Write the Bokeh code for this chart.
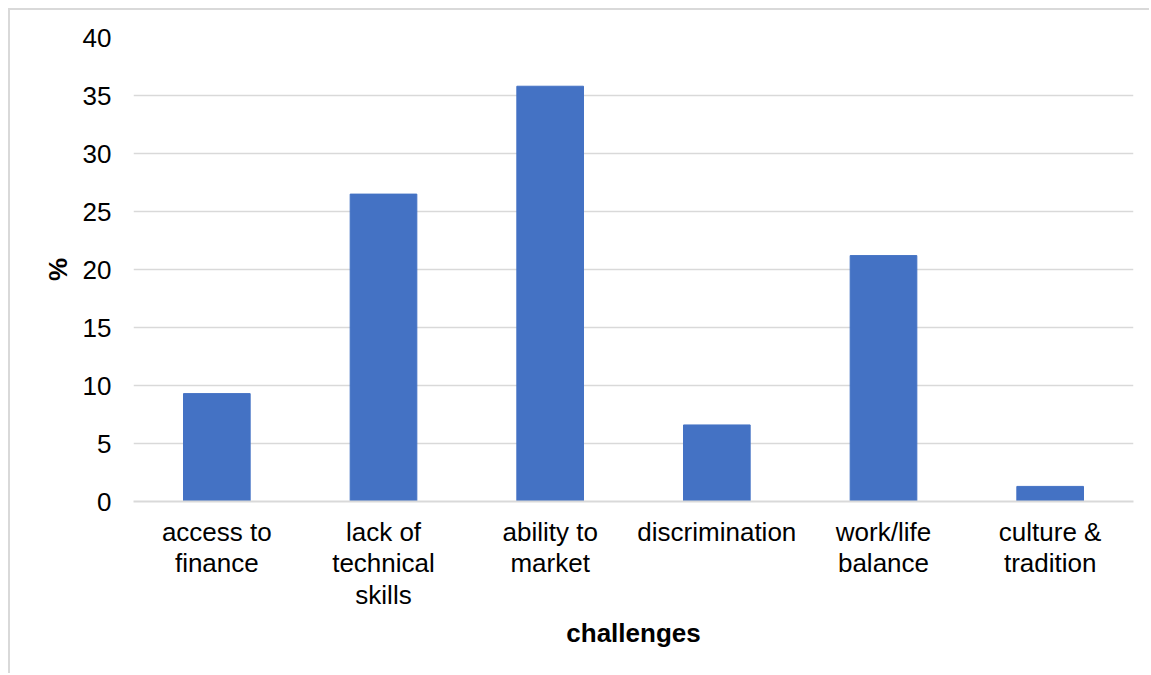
from bokeh.plotting import figure
from bokeh.models import Range1d, FixedTicker
from bokeh.embed import file_html
from bokeh.resources import INLINE

categories = ["access to\nfinance", "lack of\ntechnical\nskills", "ability to\nmarket",
              "discrimination", "work/life\nbalance", "culture &\ntradition"]
values = [9.3, 26.5, 35.8, 6.6, 21.2, 1.3]
y_ticks = [0, 5, 10, 15, 20, 25, 30, 35, 40]

FONT = "Liberation Sans"

p = figure(x_range=categories, y_range=Range1d(0, 40),
           width=1141, height=665, output_backend="svg", toolbar_location=None,
           min_border_left=123, min_border_right=18, min_border_top=27, min_border_bottom=174)
p.margin = (8, 0, 0, 8)
p.styles = {"border-left": "2px solid #d9d9d9", "border-top": "2px solid #d9d9d9"}
p.outline_line_color = None
p.background_fill_color = "white"
p.border_fill_color = "white"

p.vbar(x=categories, top=values, width=0.4, fill_color="#4472C4", line_color="#4472C4")

p.xgrid.grid_line_color = None
p.ygrid.grid_line_color = "#d9d9d9"
p.ygrid.grid_line_width = 1.5
p.yaxis.ticker = FixedTicker(ticks=y_ticks)

for ax in (p.xaxis[0], p.yaxis[0]):
    ax.major_tick_line_color = None
    ax.minor_tick_line_color = None
    ax.major_tick_out = 0
    ax.major_tick_in = 0
    ax.major_label_text_font = FONT
    ax.major_label_text_font_size = "26px"
    ax.major_label_text_color = "#000000"
    ax.axis_label_text_font = FONT
    ax.axis_label_text_font_size = "26px"
    ax.axis_label_text_font_style = "bold"
    ax.axis_label_text_color = "#000000"

p.yaxis.axis_line_color = None
p.xaxis.axis_line_color = "#d9d9d9"
p.xaxis.axis_line_width = 2
p.yaxis.axis_label = "%"
p.xaxis.axis_label = "challenges"
p.yaxis.major_label_standoff = 22
p.xaxis.major_label_standoff = 15
p.xaxis.major_label_text_line_height = 1.05
p.xaxis.major_label_orientation = "horizontal"
p.yaxis.axis_label_standoff = 7
p.xaxis.axis_label_standoff = 5

open("out.html", "w").write(file_html(p, INLINE))
